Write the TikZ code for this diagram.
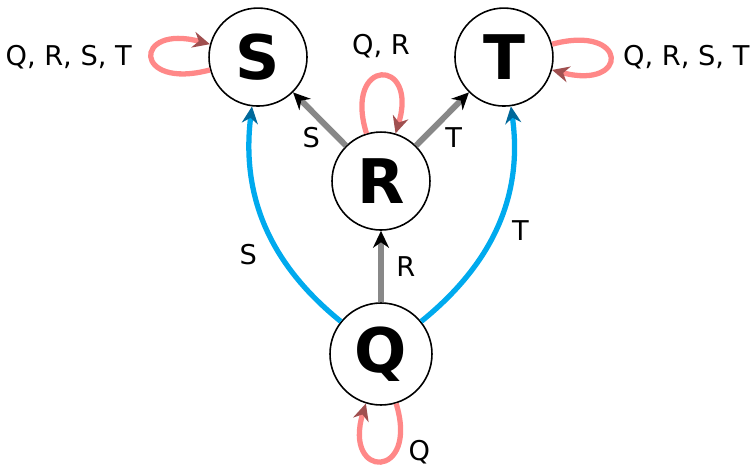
\documentclass[tikz,border=0pt]{standalone}
\usepackage{fontspec}
\setmainfont{DejaVu Sans}
\usetikzlibrary{positioning,arrows.meta}
\definecolor{loopred}{HTML}{FF8888}
\definecolor{loophead}{HTML}{A04F4F}
\definecolor{jumpblue}{HTML}{00AAEE}
\definecolor{jumphead}{HTML}{00689A}
\definecolor{stepgray}{HTML}{888888}

\begin{document}
\begin{tikzpicture}[x=0.02cm,y=0.02cm,node distance=3.46cm and 2.46cm,on grid,
   letter/.style={draw,circle,line width=0.9pt,minimum size=1.96cm,inner sep=0pt,
     font=\fontsize{35}{35}\selectfont\bfseries},
   lbl/.style={text=black,font=\fontsize{15.5}{16}\selectfont,inner sep=3pt},
   stepline/.style={stepgray,line width=3.4pt,-{Stealth[length=3.4mm,width=3.2mm,black]}},
   jump/.style={jumpblue,line width=3pt,-{Stealth[length=3.4mm,width=3.2mm,jumphead]}},
   selfloop/.style={loopred,line width=3pt,-{Stealth[length=3.4mm,width=3.2mm,loophead]},distance=1.6cm}]
 \useasboundingbox (-381,-116) rectangle (374,354);
 \node[letter,minimum size=2.04cm] (Q) at (0,0) {Q};
 \node[letter] (R) [above=of Q] {R};
 \node[letter] (S) [above left=2.48cm and 2.46cm of R] {S};
 \node[letter] (T) [above right=2.48cm and 2.46cm of R] {T};
 % straight steps
 \draw (Q) edge[stepline] node[lbl,right,xshift=4] {R} (R);
 \draw (R) edge[stepline] node[lbl,below left,xshift=5] {S} (S);
 \draw (R) edge[stepline] node[lbl,below right,xshift=-3] {T} (T);
 % long jumps
 \draw (Q) edge[jump,out=141,in=-97] node[lbl,left,pos=0.36,xshift=-9] {S} (S);
 \draw (Q) edge[jump,out=39,in=-82] node[lbl,right,pos=0.48,xshift=5] {T} (T);
 % self loops
 \draw (S) edge[selfloop,out=195,in=165] node[lbl,left,xshift=-7] {Q, R, S, T} (S);
 \draw (T) edge[selfloop,out=15,in=-15] node[lbl,right,xshift=3] {Q, R, S, T} (T);
 \draw (R) edge[selfloop,out=107,in=73] node[lbl,above,yshift=6] {Q, R} (R);
 \draw (Q) edge[selfloop,out=287,in=253] node[lbl,right,pos=0.3,xshift=3] {Q} (Q);
\end{tikzpicture}
\end{document}
